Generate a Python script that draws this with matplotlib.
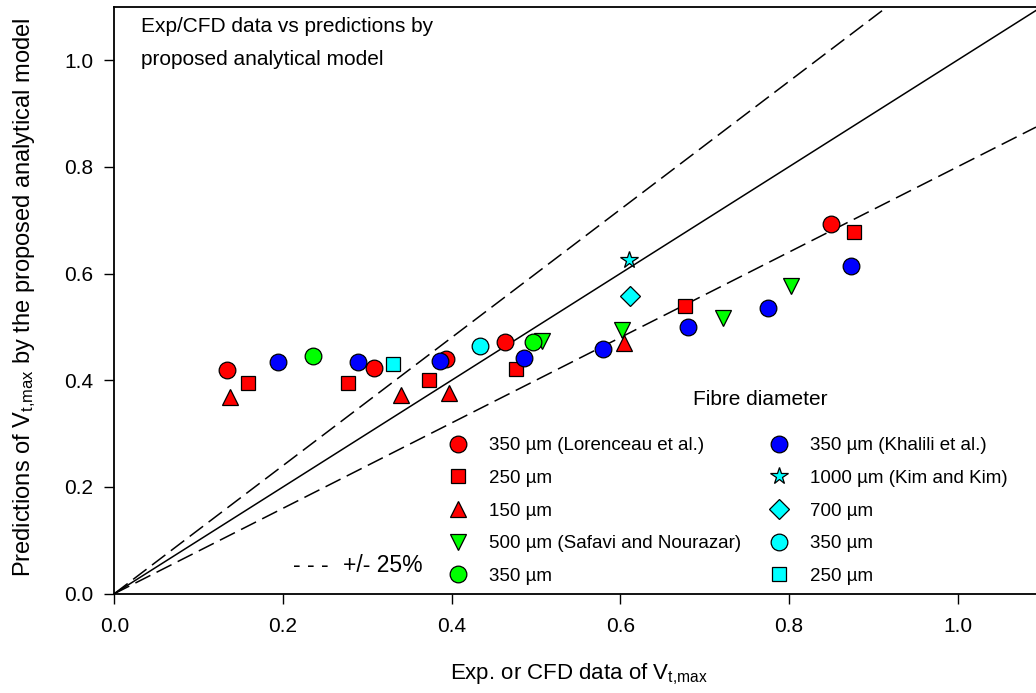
import numpy as np
import matplotlib
matplotlib.use("Agg")
import matplotlib.pyplot as plt

plt.rcParams["font.family"] = ["Liberation Sans", "DejaVu Sans"]
plt.rcParams["mathtext.fontset"] = "custom"
plt.rcParams["mathtext.rm"] = "Liberation Sans"
plt.rcParams["mathtext.it"] = "Liberation Sans"

# Lorenceau et al. (red)
lor350_x = [0.134, 0.308, 0.393, 0.463, 0.850]
lor350_y = [0.419, 0.423, 0.440, 0.471, 0.692]
lor250_x = [0.158, 0.277, 0.373, 0.476, 0.677, 0.877]
lor250_y = [0.395, 0.395, 0.400, 0.421, 0.539, 0.678]
lor150_x = [0.137, 0.340, 0.397, 0.605]
lor150_y = [0.368, 0.373, 0.376, 0.469]
# Safavi and Nourazar (green)
saf500_x = [0.507, 0.602, 0.722, 0.803]
saf500_y = [0.474, 0.494, 0.517, 0.577]
saf350_x = [0.236, 0.497]
saf350_y = [0.445, 0.472]
# Khalili et al. (blue)
kha350_x = [0.194, 0.289, 0.386, 0.486, 0.580, 0.680, 0.775, 0.874]
kha350_y = [0.435, 0.435, 0.436, 0.442, 0.459, 0.500, 0.535, 0.614]
# Kim and Kim (cyan)
kim1000_x = [0.610]
kim1000_y = [0.625]
kim700_x = [0.612]
kim700_y = [0.557]
kim350_x = [0.434]
kim350_y = [0.464]
kim250_x = [0.331]
kim250_y = [0.431]

labels_left = ["350 µm (Lorenceau et al.)", "250 µm", "150 µm",
               "500 µm (Safavi and Nourazar)", "350 µm"]
labels_right = ["350 µm (Khalili et al.)", "1000 µm (Kim and Kim)", "700 µm",
                "350 µm", "250 µm"]

W, H = 1036, 693
fig = plt.figure(figsize=(W / 100, H / 100), dpi=100)
ax = fig.add_axes([0.1103, 0.1433, 0.8897, 0.847])
X_MAX = 1.093
ax.set_xlim(0, X_MAX)
ax.set_ylim(0, 1.1)

# 1:1 line and the band lines
xl = np.array([0, X_MAX])
ax.plot(xl, xl, color="black", lw=1.1, zorder=1)
ax.plot(xl, 1.2 * xl, color="black", lw=1.1, ls=(0, (11, 4.5)), zorder=1)
ax.plot(xl, 0.8 * xl, color="black", lw=1.1, ls=(0, (11, 4.5)), zorder=1)

kw = dict(ls="none", mec="black", mew=0.9, zorder=3)
series = [
    (lor350_x, lor350_y, "o", "#FF0000"),
    (lor250_x, lor250_y, "s", "#FF0000"),
    (lor150_x, lor150_y, "^", "#FF0000"),
    (saf500_x, saf500_y, "v", "#00FF00"),
    (saf350_x, saf350_y, "o", "#00FF00"),
    (kha350_x, kha350_y, "o", "#0000FF"),
    (kim1000_x, kim1000_y, "*", "#00FFFF"),
    (kim700_x, kim700_y, "D", "#00FFFF"),
    (kim350_x, kim350_y, "o", "#00FFFF"),
    (kim250_x, kim250_y, "s", "#00FFFF"),
]
sizes = {"o": 12, "s": 10.5, "^": 12, "v": 12, "*": 13, "D": 10}
handles = []
for xs, ys, m, c in series:
    h, = ax.plot(xs, ys, marker=m, mfc=c, ms=sizes[m], **kw)
    handles.append(h)

# legend: two separate columns
leg_kw = dict(frameon=False, fontsize=13.5, handlelength=1.0, handletextpad=1.15,
              labelspacing=0.83, borderpad=0, borderaxespad=0, loc="upper left",
              bbox_transform=fig.transFigure)
leg1 = ax.legend(handles[:5], labels_left,
                 bbox_to_anchor=(448.6 / W, 1 - 437 / H), **leg_kw)
ax.add_artist(leg1)
ax.legend(handles[5:], labels_right,
          bbox_to_anchor=(769.6 / W, 1 - 437 / H), **leg_kw)
fig.text(693 / W, 1 - 405 / H, "Fibre diameter", fontsize=15, va="baseline", ha="left")

fig.text(293 / W, 1 - 572 / H, "- - -", fontsize=16.5, va="baseline", ha="left")
fig.text(343 / W, 1 - 572 / H, "+/- 25%", fontsize=16.5, va="baseline", ha="left")

fig.text(141 / W, 1 - 32 / H, "Exp/CFD data vs predictions by", fontsize=15, va="baseline", ha="left")
fig.text(141 / W, 1 - 65 / H, "proposed analytical model", fontsize=15, va="baseline", ha="left")

ax.set_xticks(np.arange(0, 1.01, 0.2))
ax.set_yticks(np.arange(0, 1.01, 0.2))
ax.xaxis.set_major_formatter(matplotlib.ticker.FormatStrFormatter("%.1f"))
ax.yaxis.set_major_formatter(matplotlib.ticker.FormatStrFormatter("%.1f"))
ax.tick_params(direction="out", length=7, width=1, labelsize=15)
ax.tick_params(axis="x", pad=10)
ax.tick_params(axis="y", pad=8)
for s in ["left", "bottom", "top"]:
    ax.spines[s].set_linewidth(1.3)
ax.spines["right"].set_visible(False)

ax.set_xlabel("Exp. or CFD data of V$_{\\mathregular{t{,}max}}$", fontsize=16)
ax.xaxis.set_label_coords(0.504, -0.115)
ax.set_ylabel("Predictions of V$_{\\mathregular{t{,}max}}$ by the proposed analytical model", fontsize=17)
ax.yaxis.set_label_coords(-0.083, 0.504)

fig.savefig("out.png", dpi=100, facecolor="white")
